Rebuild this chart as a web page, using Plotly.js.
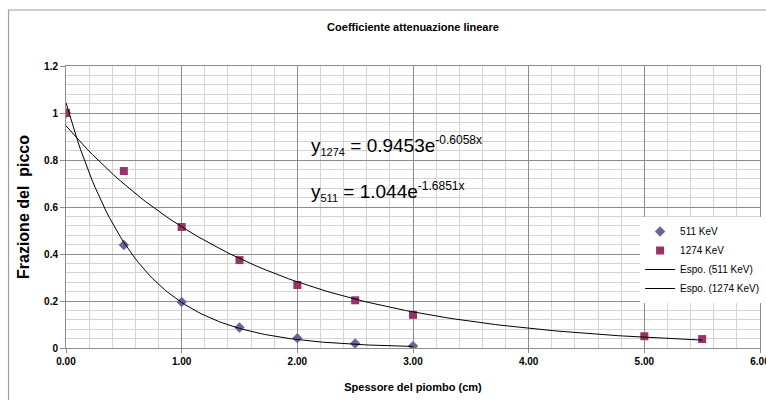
<!DOCTYPE html>
<html>
<head>
<meta charset="utf-8">
<script src="https://cdn.plot.ly/plotly-3.0.1.min.js"></script>
<style>
  html, body { margin: 0; padding: 0; background: #fff; }
  #chart { width: 766px; height: 400px; }
</style>
</head>
<body>
<div id="chart"></div>
<script>
// Measured peak fraction vs lead thickness (cm)
const thick511 = [0, 0.5, 1.0, 1.5, 2.0, 2.5, 3.0];
const frac511 = [1.0, 0.438, 0.196, 0.087, 0.042, 0.019, 0.008];

const thick1274 = [0, 0.5, 1.0, 1.5, 2.0, 2.5, 3.0, 5.0, 5.5];
const frac1274 = [1.0, 0.753, 0.515, 0.374, 0.268, 0.203, 0.141, 0.050, 0.038];

// Exponential fit coefficients y = A * exp(k x)
const fit511 = { A: 1.044, k: -1.6851, xmax: 3.0 };
const fit1274 = { A: 0.9453, k: -0.6058, xmax: 5.5 };

function fitCurve(fit) {
  const xs = [], ys = [];
  const n = 120;
  for (let i = 0; i <= n; i++) {
    const x = fit.xmax * i / n;
    xs.push(x);
    ys.push(fit.A * Math.exp(fit.k * x));
  }
  return { xs, ys };
}
const c511 = fitCurve(fit511);
const c1274 = fitCurve(fit1274);

const FONT = 'Liberation Sans, Arial, sans-serif';

const traces = [
  {
    x: thick511, y: frac511, name: '511 KeV', mode: 'markers', type: 'scatter',
    marker: { symbol: 'diamond', size: 8, color: '#666699' }
  },
  {
    x: thick1274, y: frac1274, name: '1274 KeV', mode: 'markers', type: 'scatter',
    marker: { symbol: 'square', size: 8, color: '#993366' }
  },
  {
    x: c511.xs, y: c511.ys, name: 'Espo. (511 KeV)', mode: 'lines', type: 'scatter',
    line: { color: '#000', width: 1 }
  },
  {
    x: c1274.xs, y: c1274.ys, name: 'Espo. (1274 KeV)', mode: 'lines', type: 'scatter',
    line: { color: '#000', width: 1 }
  }
];

// Plot-area pixel bounds and pixel -> paper conversion
const L = 65.5, R = 760, T = 66, B = 348;
const px = p => (p - L) / (R - L);
const py = p => (B - p) / (B - T);

function eqText(sub, coef, expo) {
  return 'y<sub><span style="font-size:11px">' + sub + '</span></sub> = ' + coef +
         'e<sup><span style="font-size:12px">' + expo + '</span></sup>';
}

const layout = {
  width: 766, height: 400,
  margin: { l: L, r: 766 - R, t: T, b: 400 - B, pad: 0, autoexpand: false },
  paper_bgcolor: '#fff', plot_bgcolor: '#fff',
  font: { family: FONT, color: '#000', size: 10 },
  showlegend: true,
  title: {
    text: '<b>Coefficiente attenuazione lineare</b>',
    font: { family: FONT, size: 11, color: '#000' },
    x: 0.5, xref: 'paper', xanchor: 'center',
    y: 1 - 27 / 400, yref: 'container', yanchor: 'middle'
  },
  xaxis: {
    range: [0, 6], dtick: 1, tick0: 0, tickformat: '.2f',
    showgrid: true, gridcolor: '#8c8c8c', gridwidth: 1,
    minor: { dtick: 0.2, showgrid: true, gridcolor: '#d4d4d4', gridwidth: 1 },
    showline: true, linecolor: '#8c8c8c', linewidth: 1, mirror: true,
    ticks: 'outside', ticklen: 4, tickcolor: '#8c8c8c',
    ticklabeloverflow: 'allow',
    tickfont: { family: FONT, size: 10, color: '#000', weight: 'bold' },
    zeroline: false,
    title: { text: '<b>Spessore del piombo (cm)</b>', font: { family: FONT, size: 11, color: '#000' }, standoff: 17 }
  },
  yaxis: {
    range: [0, 1.2], dtick: 0.2, tick0: 0,
    showgrid: true, gridcolor: '#8c8c8c', gridwidth: 1,
    minor: { dtick: 0.04, showgrid: true, gridcolor: '#d4d4d4', gridwidth: 1 },
    showline: true, linecolor: '#8c8c8c', linewidth: 1, mirror: true,
    ticks: 'outside', ticklen: 5, tickcolor: '#8c8c8c',
    tickfont: { family: FONT, size: 10, color: '#000', weight: 'bold' },
    zeroline: false,
    title: { text: '<b>Frazione del  picco</b>', font: { family: FONT, size: 16, color: '#000' }, standoff: 10 }
  },
  legend: {
    x: px(640), y: py(217), xanchor: 'left', yanchor: 'top',
    bgcolor: '#fff', borderwidth: 0,
    font: { family: FONT, size: 10, color: '#000' },
    tracegroupgap: 0, itemwidth: 30
  },
  annotations: [
    {
      xref: 'x', yref: 'y', x: 2.1, y: 0.862, xanchor: 'left', yanchor: 'middle',
      showarrow: false,
      text: eqText('1274', '0.9453', '-0.6058x'),
      font: { family: FONT, size: 19, color: '#000' }
    },
    {
      xref: 'x', yref: 'y', x: 2.1, y: 0.665, xanchor: 'left', yanchor: 'middle',
      showarrow: false,
      text: eqText('511', '1.044', '-1.6851x'),
      font: { family: FONT, size: 19, color: '#000' }
    }
  ],
  shapes: [
    {
      type: 'rect', xref: 'paper', yref: 'paper', layer: 'below',
      x0: px(8), x1: px(780), y0: py(420), y1: py(10),
      line: { color: '#a0a0a0', width: 1.2 }, fillcolor: 'rgba(0,0,0,0)'
    }
  ]
};

Plotly.newPlot('chart', traces, layout, { displayModeBar: false, staticPlot: true });
</script>
</body>
</html>
